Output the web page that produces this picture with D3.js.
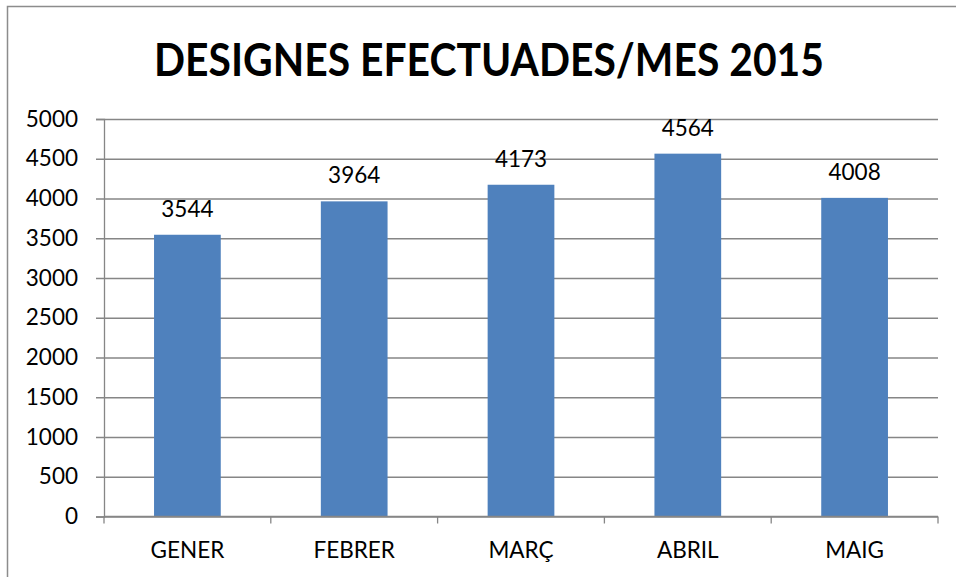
<!DOCTYPE html>
<html>
<head>
<meta charset="utf-8">
<script src="https://cdn.jsdelivr.net/npm/d3@7"></script>
<style>
  body { margin: 0; background: #fff; }
  text { font-family: Lato, "Open Sans", sans-serif; }
</style>
</head>
<body>
<div id="chart"></div>
<script>
var months = ["GENER", "FEBRER", "MARÇ", "ABRIL", "MAIG"];
var designes = [3544, 3964, 4173, 4564, 4008];
var yTicks = [0, 500, 1000, 1500, 2000, 2500, 3000, 3500, 4000, 4500, 5000];
var title = "DESIGNES EFECTUADES/MES 2015";

var W = 956, H = 577;
var margin = { top: 119, right: 18, bottom: 60.5, left: 104 };
var width = W - margin.left - margin.right,
    height = H - margin.top - margin.bottom;
var fs = 22.5;

var svg = d3.select("#chart")
  .append("svg")
  .attr("width", W)
  .attr("height", H);

// outer chart border
svg.append("rect")
  .attr("x", 7.5).attr("y", 6.5)
  .attr("width", W + 10).attr("height", H + 10)
  .attr("fill", "none")
  .attr("stroke", "#8c8c8c")
  .attr("stroke-width", 1.5);

svg.append("text")
  .attr("x", 489)
  .attr("y", 76)
  .attr("text-anchor", "middle")
  .attr("font-size", 46)
  .attr("font-weight", "bold")
  .attr("fill", "#000")
  .attr("textLength", 670)
  .attr("lengthAdjust", "spacingAndGlyphs")
  .text(title);

var g = svg.append("g")
  .attr("transform", "translate(" + margin.left + "," + margin.top + ")");

var y = d3.scaleLinear()
  .domain([0, 5000])
  .range([height, 0]);

var x = d3.scaleBand()
  .domain(months)
  .range([0, width])
  .padding(0);

// gridlines + y labels
var yAxis = g.append("g")
  .call(d3.axisLeft(y).tickValues(yTicks).tickSize(8).tickPadding(18).tickFormat(d3.format("d")));
yAxis.select(".domain").attr("stroke", "#868686").attr("stroke-width", 1.3);
yAxis.selectAll(".tick line")
  .attr("x1", -8).attr("x2", width)
  .attr("stroke", "#868686").attr("stroke-width", 1.3);
yAxis.selectAll(".tick text")
  .attr("font-size", fs)
  .attr("fill", "#000")
  .attr("font-family", "Lato, sans-serif");

// bars
var barW = x.bandwidth() * 0.4;
g.selectAll(".bar")
  .data(designes)
  .enter()
  .append("rect")
  .attr("class", "bar")
  .attr("x", function (d, i) { return x(months[i]) + (x.bandwidth() - barW) / 2; })
  .attr("y", function (d) { return y(d); })
  .attr("width", barW)
  .attr("height", function (d) { return height - y(d); })
  .attr("fill", "#4f81bd");

// value labels
g.selectAll(".val")
  .data(designes)
  .enter()
  .append("text")
  .attr("class", "val")
  .attr("x", function (d, i) { return x(months[i]) + x.bandwidth() / 2; })
  .attr("y", function (d) { return y(d) - 18; })
  .attr("text-anchor", "middle")
  .attr("font-size", fs)
  .text(function (d) { return d; });

// x axis line and boundary ticks
g.append("line")
  .attr("x1", 0).attr("x2", width)
  .attr("y1", height).attr("y2", height)
  .attr("stroke", "#868686").attr("stroke-width", 1.3);

var bounds = months.map(function (m) { return x(m); }).concat([width]);
g.selectAll(".xtick")
  .data(bounds)
  .enter()
  .append("line")
  .attr("x1", function (d) { return d; })
  .attr("x2", function (d) { return d; })
  .attr("y1", height).attr("y2", height + 7)
  .attr("stroke", "#868686").attr("stroke-width", 1.3);

g.selectAll(".xlab")
  .data(months)
  .enter()
  .append("text")
  .attr("x", function (d) { return x(d) + x.bandwidth() / 2; })
  .attr("y", height + 41.5)
  .attr("text-anchor", "middle")
  .attr("font-size", fs)
  .text(function (d) { return d; });
</script>
</body>
</html>
